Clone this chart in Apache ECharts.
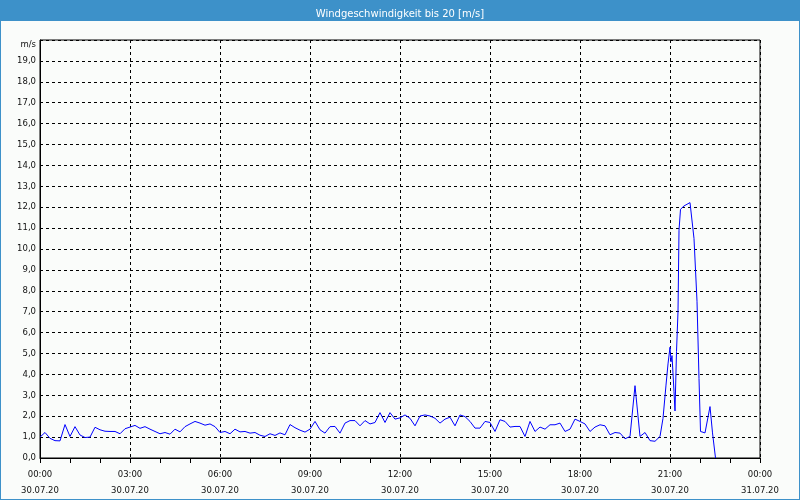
<!DOCTYPE html>
<html>
<head>
<meta charset="utf-8">
<script src="https://cdn.jsdelivr.net/npm/echarts@6/dist/echarts.min.js"></script>
<style>
html,body{margin:0;padding:0;}
#wrap{width:800px;height:500px;box-sizing:border-box;border:1px solid #3d91c9;background:#fafcfa;position:relative;}
#chart{width:798px;height:498px;position:absolute;left:0;top:0;}
</style>
</head>
<body>
<div id="wrap"><div id="chart"></div></div>
<script>
// minutes since 30.07.20 00:00
const minutes = [
  0,10,20,30,40,50,60,70,80,90,100,110,120,130,140,150,160,170,180,190,
  200,210,220,230,240,250,260,270,280,290,300,310,320,330,340,350,360,370,380,390,
  400,410,420,430,440,450,460,470,480,490,500,510,520,530,540,550,560,570,580,590,
  600,610,620,630,640,650,660,670,680,690,700,710,720,730,740,750,760,770,780,790,
  800,810,820,830,840,850,860,870,880,890,900,910,920,930,940,950,960,970,980,990,
  1000,1010,1020,1030,1040,1050,1060,1070,1080,1090,1100,1110,1120,1130,1140,1150,1160,1170,1180,
  1190,1200,1210,1220,1230,1240,1246,1252,1256,1260,1262,1264,1268,1270,1273,1276,1278,1281,1288,1300,
  1308,1314,1318,1321,1330,1340,1345,1351
];
const speeds = [
  1.0,1.22,0.94,0.83,0.82,1.6,1.03,1.5,1.1,0.98,1.0,1.47,1.35,1.28,1.27,1.27,1.16,1.4,1.48,1.56,
  1.42,1.5,1.38,1.27,1.16,1.22,1.14,1.38,1.25,1.5,1.63,1.75,1.67,1.57,1.63,1.5,1.22,1.27,1.16,1.38,
  1.25,1.27,1.19,1.22,1.09,1.03,1.16,1.08,1.2,1.11,1.6,1.45,1.33,1.24,1.38,1.75,1.35,1.19,1.5,1.51,
  1.19,1.67,1.79,1.79,1.54,1.79,1.63,1.7,2.17,1.7,2.17,1.86,1.92,2.06,1.9,1.54,2.01,2.06,2.01,1.9,
  1.67,1.86,1.95,1.54,2.06,1.98,1.75,1.43,1.43,1.75,1.7,1.27,1.83,1.75,1.48,1.51,1.51,1.03,1.75,1.27,
  1.48,1.38,1.59,1.59,1.67,1.27,1.38,1.86,1.75,1.63,1.27,1.48,1.59,1.54,1.11,1.22,1.19,0.92,1.03,
  3.46,1.03,1.22,0.83,0.80,1.03,1.9,3.49,4.5,5.3,4.6,4.9,3.17,2.25,5.1,7.0,10.9,11.9,12.06,12.22,
  10.5,7.5,3.8,1.27,1.2,2.46,1.2,0
];
const titleText = 'Windgeschwindigkeit bis 20 [m/s]';
const dateLabels = {0:'30.07.20',1440:'31.07.20'};
const unitLabel = 'm/s';

const data = minutes.map((m,i)=>[m,speeds[i]]);
const pad = n => (n<10?'0':'')+n;
const chart = echarts.init(document.getElementById('chart'), null, {renderer:'canvas'});
const FONT = 'DejaVu Sans';
chart.setOption({
  animation:false,
  backgroundColor:'transparent',
  graphic:[{type:'rect',left:-1,top:-1,shape:{width:800,height:21},style:{fill:'#3d91c9'},z:0}],
  title:{text:titleText,left:'center',top:3,textStyle:{color:'#fff',fontFamily:FONT,fontSize:10,fontWeight:'normal'}},
  grid:{left:39,right:39,top:39,bottom:39,show:true,borderColor:'#000',borderWidth:1,backgroundColor:'transparent'},
  xAxis:{
    type:'value',min:0,max:1440,interval:180,
    axisLine:{show:true,lineStyle:{color:'#000',width:1}},
    axisTick:{show:true,length:5,lineStyle:{color:'#000'}},
    minorTick:{show:true,splitNumber:3,length:5,lineStyle:{color:'#000'}},
    splitLine:{show:true,lineStyle:{color:'#000',type:[3,3],width:1}},
    axisLabel:{
      margin:9,color:'#111',fontFamily:FONT,fontSize:8.5,lineHeight:16,
      formatter:v=>{
        const h=Math.floor(v/60)%24, mm=v%60;
        const d = v>=1440?dateLabels[1440]:dateLabels[0];
        return pad(h)+':'+pad(mm)+'\n'+d;
      }
    }
  },
  yAxis:{
    type:'value',min:0,max:20,interval:1,
    axisLine:{show:true,lineStyle:{color:'#000',width:1}},
    axisTick:{show:false},
    splitLine:{show:true,lineStyle:{color:'#000',type:[3,3],width:1}},
    axisLabel:{
      margin:4,color:'#111',fontFamily:FONT,fontSize:8.5,
      formatter:v=> v===20 ? '{u|'+unitLabel+'}' : v.toFixed(1).replace('.',','),
      rich:{u:{fontFamily:FONT,fontSize:8.5,color:'#111',padding:[10,0,0,0]}}
    }
  },
  series:[{
    type:'line',data:data,showSymbol:false,symbol:'none',
    lineStyle:{color:'#0000ff',width:1},
    z:5
  }]
});
</script>
</body>
</html>
